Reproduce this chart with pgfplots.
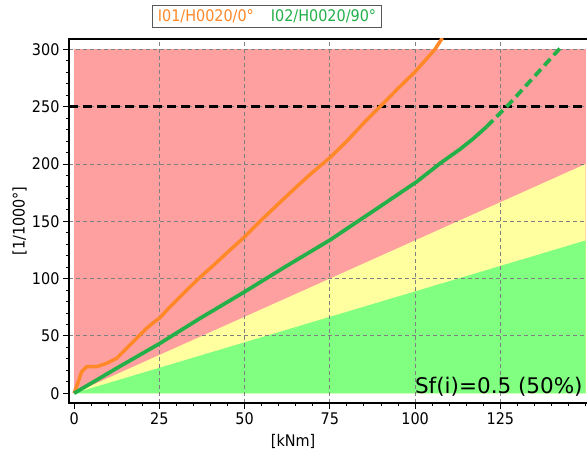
\documentclass[border=0pt]{standalone}
\usepackage{pgfplots}
\pgfplotsset{compat=1.18}
\usepackage{fontspec}
\setmainfont{DejaVu Sans Condensed}
\newfontfamily\widesans{DejaVu Sans}

\definecolor{zoneRed}{RGB}{255,160,160}
\definecolor{zoneYellow}{RGB}{255,255,160}
\definecolor{zoneGreen}{RGB}{128,255,128}
\definecolor{curveOrange}{RGB}{255,136,40}
\definecolor{curveGreen}{RGB}{36,176,72}
\definecolor{gridGray}{RGB}{128,128,128}

\begin{document}
\begin{tikzpicture}
\begin{axis}[
  set layers,
  at={(69pt,51pt)}, anchor=south west,
  scale only axis, width=520pt, height=364pt,
  xmin=-1.5, xmax=151, ymin=-8.5, ymax=309.1,
  xtick={25,50,...,125}, extra x ticks={0}, extra x tick style={grid=none},
  ytick={50,100,...,300}, extra y ticks={0}, extra y tick style={grid=none},
  minor xtick={5,10,...,150}, minor ytick={10,20,...,300},
  tick pos=left, tick align=outside,
  major tick length=6pt, minor tick length=3.5pt,
  every tick/.style={black, line width=1pt},
  axis line style={line width=1.4pt},
  grid=major,
  major grid style={gridGray, line width=0.9pt, dash pattern=on 4pt off 3pt},
  /pgf/number format/assume math mode=true,
  ticklabel style={font=\fontsize{16}{19}\selectfont},
  xlabel={[kNm]}, ylabel={[1/1000°]},
  label style={font=\fontsize{16}{19}\selectfont},
  x label style={at={(axis description cs:0.431,-0.1045)}, anchor=center},
  y label style={at={(axis description cs:-0.0952,0.5)}, anchor=center},
  legend columns=2,
  legend image code/.code={},
  legend style={at={(axis description cs:0.3808,1.0618)}, anchor=center,
    draw=gray!70!black, line width=0.8pt, inner xsep=3pt, inner ysep=2pt,
    font=\fontsize{16}{19}\selectfont,
    /tikz/every even column/.append style={column sep=13pt}},
]
% utilisation zones
\addplot[fill=zoneRed, draw=none, on layer=axis background, forget plot]
  coordinates {(0,0) (150,0) (150,300) (0,300)} -- cycle;
\addplot[fill=zoneYellow, draw=none, on layer=axis background, forget plot]
  coordinates {(0,0) (150,0) (150,200)} -- cycle;
\addplot[fill=zoneGreen, draw=none, on layer=axis background, forget plot]
  coordinates {(0,0) (150,0) (150,133.3)} -- cycle;

% limit line
\addplot[black, line width=2.6pt, dash pattern=on 9pt off 5pt, forget plot]
  coordinates {(-1.5,250) (150,250)};

% I01/H0020/0
\addplot[curveOrange, line width=3.5pt, line join=round]
  coordinates {(0,0) (1,8) (2.2,18.8) (3.7,23.2) (6.6,23.2) (9.6,26.2)
  (12.5,30.5) (15.4,39.3) (18.8,49.4) (21,56) (23,61) (25.2,66)
  (28,75) (32,87) (36.5,100) (41,112) (45,123) (50,136.5) (54.5,150) (60,165.5)
  (65,179.5) (70,193) (75,205.5) (80,220) (85,236) (89.7,250) (95,266) (100,280.5)
  (105.8,300) (108,310)};
\addlegendentry{\textcolor{curveOrange}{I01/H0020/0°}}

% I02/H0020/90, measured part
\addplot[curveGreen, line width=3.7pt, line join=round]
  coordinates {(0,0) (12,21) (25.2,43.6) (37,65.5) (50,88.5) (62,110.5) (75.1,133.8)
  (83.4,150.4) (90,163.5) (100.5,184.6) (107.3,200.5) (113.2,213) (117,222) (121,232.6)};
\addlegendentry{\textcolor{curveGreen}{I02/H0020/90°}}

% I02/H0020/90, extrapolated part
\addplot[curveGreen, line width=3.7pt, dash pattern=on 9pt off 5pt, forget plot]
  coordinates {(121,232.6) (127.8,253) (135,276.5) (142.5,301)};

\node[anchor=base east, inner sep=0pt, font=\widesans\fontsize{21.5}{25}\selectfont]
  at (axis cs:149.2,0) {Sf(i)=0.5 (50\%)};
\end{axis}
\pgfresetboundingbox
\path[use as bounding box] (0,0) rectangle (587pt,454pt);
\end{tikzpicture}
\end{document}
